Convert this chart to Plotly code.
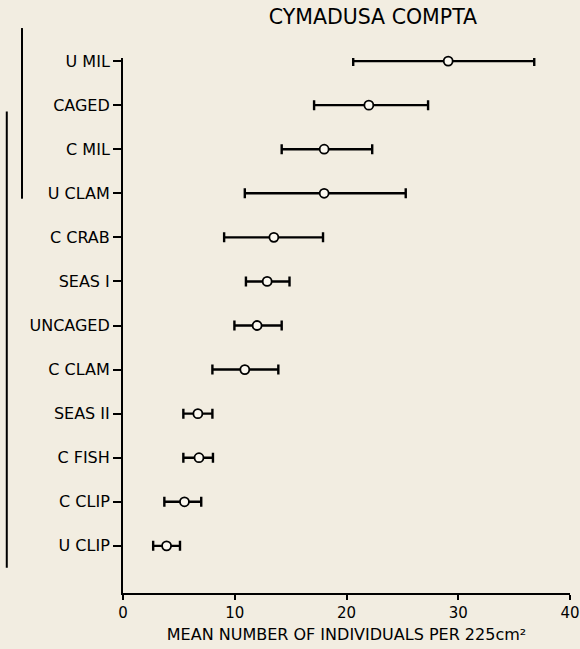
import plotly.graph_objects as go

categories = ["U MIL", "CAGED", "C MIL", "U CLAM", "C CRAB", "SEAS I",
              "UNCAGED", "C CLAM", "SEAS II", "C FISH", "C CLIP", "U CLIP"]
means = [29.1, 22.0, 18.0, 18.0, 13.5, 12.9, 12.0, 10.9, 6.7, 6.8, 5.5, 3.9]
lows = [20.6, 17.1, 14.2, 10.9, 9.05, 11.0, 9.97, 8.0, 5.4, 5.4, 3.7, 2.7]
highs = [36.8, 27.3, 22.3, 25.3, 17.9, 14.9, 14.2, 13.9, 8.0, 8.05, 7.0, 5.1]
x_ticks = [0, 10, 20, 30, 40]

n = len(categories)
ypos = [n - 1 - i for i in range(n)]
err_plus = [h - m for h, m in zip(highs, means)]
err_minus = [m - l for m, l in zip(means, lows)]

BG = "#f2ede1"
FONT = "DejaVu Sans"

fig = go.Figure()
fig.add_trace(go.Scatter(
    x=means, y=ypos, mode="markers",
    marker=dict(symbol="circle", size=9, color="#fbf8f0",
                line=dict(color="black", width=1.8)),
    error_x=dict(type="data", symmetric=False, array=err_plus,
                 arrayminus=err_minus, color="black", thickness=2.4, width=5),
    cliponaxis=False, showlegend=False,
))

# grouping lines (non-significant groups) at the left
fig.add_shape(type="line", xref="paper", yref="paper",
              x0=-0.226, x1=-0.226, y0=1.056, y1=0.737,
              line=dict(color="black", width=2))
fig.add_shape(type="line", xref="paper", yref="paper",
              x0=-0.260, x1=-0.260, y0=0.900, y1=0.047,
              line=dict(color="black", width=2))

fig.update_layout(
    width=580, height=649,
    margin=dict(l=123, r=10, t=58, b=56, autoexpand=False),
    paper_bgcolor=BG, plot_bgcolor=BG,
    font=dict(family=FONT, color="black", size=16),
    title=dict(text="CYMADUSA COMPTA", x=0.643, xref="container",
               xanchor="center", y=1 - 17 / 649, yref="container",
               yanchor="middle", font=dict(size=20.5, family=FONT)),
    xaxis=dict(range=[0, 40], tickvals=x_ticks, showline=True,
               linecolor="black", linewidth=2, ticks="outside", ticklen=5,
               tickwidth=2, tickcolor="black", showgrid=False, zeroline=False,
               tickfont=dict(size=15), ticklabeloverflow="allow",
               automargin=False,
               title=dict(text="MEAN NUMBER OF INDIVIDUALS PER 225cm²",
                          font=dict(size=16), standoff=8)),
    yaxis=dict(range=[-1.07, 11.07], tickvals=ypos, ticktext=categories,
               showline=True, linecolor="black", linewidth=2,
               ticks="outside", ticklen=8, tickwidth=2, tickcolor="black",
               showgrid=False, zeroline=False, tickfont=dict(size=16),
               automargin=False),
)

fig.write_html("out.html")
